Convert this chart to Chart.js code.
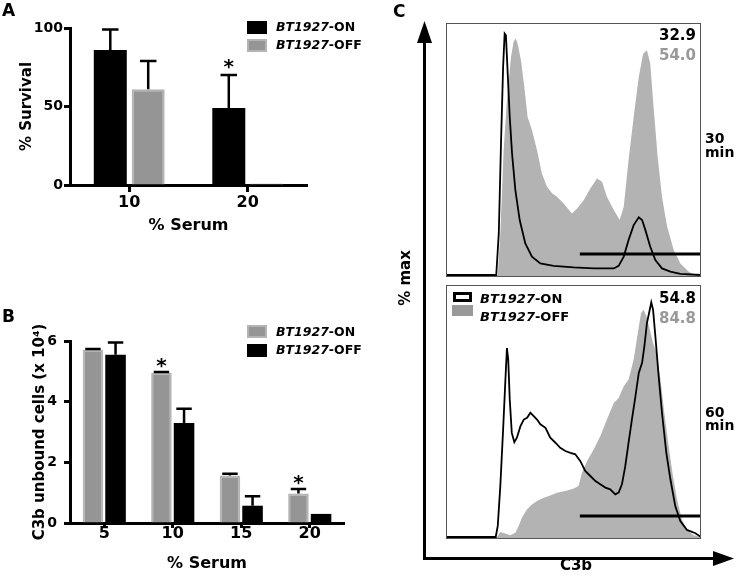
<!DOCTYPE html>
<html><head><meta charset="utf-8">
<script src="https://cdn.jsdelivr.net/npm/chart.js@4/dist/chart.umd.min.js"></script>
<style>
html,body{margin:0;padding:0;background:#fff;}
body{width:742px;height:584px;position:relative;overflow:hidden;font-family:'DejaVu Sans',sans-serif;font-weight:bold;color:#000;}
canvas{position:absolute;}
.t{position:absolute;line-height:1;white-space:nowrap;}
.sq{position:absolute;box-sizing:border-box;}
i{font-style:italic;}
</style></head><body>
<canvas id="cA" width="330" height="245" style="left:0;top:0"></canvas>
<canvas id="cB" width="380" height="294" style="left:0;top:290px"></canvas>
<canvas id="cC1" width="255" height="254" style="left:446px;top:23px"></canvas>
<canvas id="cC2" width="255" height="254" style="left:446px;top:285px"></canvas>

<svg width="742" height="584" style="position:absolute;left:0;top:0;pointer-events:none">
  <line x1="424.5" y1="40" x2="424.5" y2="558.5" stroke="#000" stroke-width="3"/>
  <polygon points="424.5,21 417,43 432,43" fill="#000"/>
  <line x1="423" y1="558.5" x2="716" y2="558.5" stroke="#000" stroke-width="3"/>
  <polygon points="734,558.5 713,551 713,566" fill="#000"/>
</svg>

<div class="t" style="left:2px;top:2px;font-size:17px">A</div>
<div class="t" style="left:2px;top:308px;font-size:17px">B</div>
<div class="t" style="left:393px;top:3px;font-size:17px">C</div>

<!-- legend A -->
<div class="sq" style="left:247px;top:21px;width:20px;height:13px;background:#000"></div>
<div class="sq" style="left:247px;top:39px;width:20px;height:13px;background:#959595;border:2px solid #b4b4b4"></div>
<div class="t" style="left:276px;top:21px;font-size:12.5px"><i>BT1927</i>-ON</div>
<div class="t" style="left:276px;top:39px;font-size:12.5px"><i>BT1927</i>-OFF</div>

<!-- legend B -->
<div class="sq" style="left:247px;top:325px;width:20px;height:13px;background:#959595;border:2px solid #b4b4b4"></div>
<div class="sq" style="left:247px;top:344px;width:20px;height:13px;background:#000"></div>
<div class="t" style="left:276px;top:326px;font-size:12.5px"><i>BT1927</i>-ON</div>
<div class="t" style="left:276px;top:343.5px;font-size:12.5px"><i>BT1927</i>-OFF</div>

<!-- panel C texts -->
<div class="t" style="right:46px;top:28px;font-size:15px">32.9</div>
<div class="t" style="right:46px;top:48px;font-size:15px;color:#999">54.0</div>
<div class="t" style="right:46px;top:291px;font-size:15px">54.8</div>
<div class="t" style="right:46px;top:311px;font-size:15px;color:#999">84.8</div>
<div class="t" style="left:705px;top:131px;font-size:14px;line-height:14px">30<br>min</div>
<div class="t" style="left:705px;top:406px;font-size:14px;line-height:13px">60<br>min</div>
<div class="t" style="left:405px;top:278px;font-size:15px;transform:translate(-50%,-50%) rotate(-90deg)">% max</div>
<div class="t" style="left:576px;top:558px;font-size:15px;transform:translateX(-50%)">C3b</div>
<div class="sq" style="left:453px;top:292px;width:19px;height:10px;border:3px solid #000;background:#fff"></div>
<div class="sq" style="left:452px;top:305px;width:21px;height:11px;background:#999"></div>
<div class="t" style="left:480px;top:292px;font-size:13px"><i>BT1927</i>-ON</div>
<div class="t" style="left:480px;top:310px;font-size:13px"><i>BT1927</i>-OFF</div>

<script>
// ---------- Panel A data ----------
const aCategories = ['10', '20'];
const aOn = [86, 49];
const aOnErr = [13, 21];
const aOnStar = [false, true];
const aOff = [61, 1];
const aOffErr = [18, 0];
const aOffStar = [false, false];
const aTicks = [0, 50, 100];

// ---------- Panel B data ----------
const bCategories = ['5', '10', '15', '20'];
const bOn = [5.7, 4.95, 1.57, 0.97];
const bOnErr = [0.04, 0.03, 0.05, 0.15];
const bOnStar = [false, true, false, true];
const bOff = [5.55, 3.3, 0.57, 0.3];
const bOffErr = [0.4, 0.47, 0.31, 0];
const bOffStar = [false, false, false, false];
const bTicks = [0, 2, 4, 6];

// ---------- Panel C data (C3b channel %, % max) ----------
const c30OnX = [0,19.3,19.7,20.7,21.6,22.4,23.0,23.5,24.2,25.0,25.9,27.2,28.9,31.1,33.7,37.0,42.2,50.1,57.9,65.8,67.7,69.7,71.6,73.6,75.6,76.9,78.2,80.1,82.1,84.7,88.0,91.9,100];
const c30OnY = [0,0,0,16.5,53.5,82.6,95.8,95.1,79.9,62.7,48.2,33.7,21.8,12.5,7.3,4.6,3.6,3.0,2.6,2.6,3.6,7.3,13.9,19.8,22.9,21.8,17.8,11.2,5.9,2.6,1.3,0.4,0];
const c30OffX = [0,20.3,21.3,22.6,23.9,25.5,26.5,27.3,28.1,29.4,30.7,32.0,33.7,35.7,37.6,39.6,41.6,43.5,46.1,49.4,51.4,54.0,56.6,59.2,61.2,63.1,65.8,68.1,69.7,71.6,73.6,75.6,77.3,78.8,80.1,81.4,83.0,84.7,86.7,89.3,91.9,95.2,97.8,100];
const c30OffY = [0,0,16.5,49.5,69.4,86.5,92.5,93.8,91.8,85.2,74.6,62.7,57.5,49.5,40.3,35.0,32.4,31.0,28.4,24.4,26.4,29.7,34.3,38.3,37.0,31.0,25.8,21.8,27.1,45.6,62.7,78.6,87.8,89.2,83.9,66.7,46.9,31.0,19.2,9.9,4.6,1.3,0,0];
const c60OnX = [0,19.5,20.3,21.3,22.4,23.3,23.9,24.4,25.0,25.8,26.8,27.8,29.2,30.5,31.8,33.1,34.4,35.7,37.0,39.0,40.9,42.9,44.8,46.8,48.8,50.7,52.7,54.6,56.6,58.6,60.5,62.5,64.4,66.4,67.7,69.0,70.3,71.6,72.9,74.3,75.6,76.9,77.8,78.8,79.9,80.5,81.2,82.1,83.4,84.7,86.4,88.0,89.9,91.9,94.5,97.8,100];
const c60OnY = [0,0,4.4,20.2,42.7,62.5,75.0,70.4,54.6,41.3,37.6,39.4,44.0,46.6,47.3,49.3,48.0,46.6,44.7,43.3,39.4,37.4,35.4,34.1,33.4,32.8,30.1,26.2,24.2,22.2,20.9,19.6,18.9,16.9,17.6,20.9,28.1,37.4,46.6,55.9,65.1,69.1,75.7,84.9,90.2,93.1,90.2,79.7,63.8,49.3,33.4,22.9,12.3,6.3,2.8,1.5,0];
const c60OffX = [0,20.0,21.3,22.9,25.2,27.2,28.5,29.8,31.8,33.7,35.7,38.3,40.9,43.5,46.8,50.1,52.0,53.3,55.3,57.9,60.5,63.1,65.8,67.7,69.7,71.6,73.6,75.2,76.5,77.5,78.6,79.9,81.2,82.5,84.1,85.6,87.3,89.0,90.6,92.5,94.5,97.1,100];
const c60OffY = [0,0,2.0,1.5,0.7,1.7,4.4,7.7,11.0,12.9,14.3,15.6,16.5,17.6,18.2,19.2,20.2,25.5,30.1,34.7,40.0,46.6,53.2,55.2,59.8,62.5,70.4,81.0,88.9,90.2,87.6,82.3,77.0,73.1,62.5,49.3,36.1,24.2,14.9,7.0,2.8,0.7,0];
const gateX = [52.5, 100];
const gateY = [8.3, 8.3];

Chart.defaults.font.family = "'DejaVu Sans', sans-serif";
Chart.defaults.font.weight = 'bold';
Chart.defaults.color = '#000';
Chart.defaults.animation = false;
Chart.defaults.plugins.legend.display = false;
Chart.defaults.plugins.tooltip.enabled = false;

const GRAY = '#959595', GRAY_EDGE = '#b4b4b4';

const errorBars = {
  id: 'errorBars',
  afterDatasetsDraw(chart, args, opts) {
    const ctx = chart.ctx, ys = chart.scales.y;
    chart.data.datasets.forEach((ds, di) => {
      if (!ds.errors) return;
      const meta = chart.getDatasetMeta(di);
      meta.data.forEach((bar, i) => {
        const err = ds.errors[i] || 0;
        const top = ys.getPixelForValue(ds.data[i] + err);
        ctx.save();
        ctx.strokeStyle = '#000';
        ctx.lineWidth = opts.lineWidth || 2;
        if (err > 0) {
          const half = bar.width * opts.cap / 2;
          ctx.beginPath();
          ctx.moveTo(bar.x, bar.y); ctx.lineTo(bar.x, top);
          ctx.moveTo(bar.x - half, top); ctx.lineTo(bar.x + half, top);
          ctx.stroke();
        }
        if (ds.stars && ds.stars[i]) {
          ctx.fillStyle = '#000';
          ctx.font = "bold 20px 'DejaVu Sans'";
          ctx.textAlign = 'center';
          ctx.textBaseline = 'alphabetic';
          ctx.fillText('*', bar.x, top - opts.starGap);
        }
        ctx.restore();
      });
    });
  }
};

function barChart(id, cats, sets, ticks, cfg) {
  return new Chart(document.getElementById(id), {
    type: 'bar',
    data: { labels: cats, datasets: sets },
    options: {
      responsive: false,
      layout: { padding: cfg.pad },
      datasets: { bar: { categoryPercentage: cfg.catPct, barPercentage: cfg.barPct } },
      plugins: { errorBars: cfg.err },
      scales: {
        x: {
          offset: true,
          grid: { display: true, offset: false, drawOnChartArea: false, drawTicks: true, tickLength: cfg.xTickLen, tickWidth: 3, tickColor: '#000' },
          border: { display: true, color: '#000', width: 3 },
          ticks: { font: { size: 16, lineHeight: 1 }, padding: cfg.xTickPad },
          title: { display: true, text: '% Serum', font: { size: 16 }, padding: { top: 0, bottom: cfg.xTitlePad } },
          afterFit: s => { s.height = cfg.xH; }
        },
        y: {
          min: ticks[0], max: ticks[ticks.length - 1],
          afterBuildTicks: s => { s.ticks = ticks.map(v => ({ value: v })); },
          grid: { display: true, drawOnChartArea: false, drawTicks: true, tickLength: 6, tickWidth: 3, tickColor: '#000' },
          border: { display: true, color: '#000', width: 3 },
          ticks: { font: { size: 14 }, padding: cfg.yTickPad },
          title: { display: true, text: cfg.yTitle, font: { size: 15 }, padding: { top: cfg.yTitlePad, bottom: 0 } },
          afterFit: s => { s.width = 70; }
        }
      }
    },
    plugins: [errorBars]
  });
}

barChart('cA', aCategories, [
  { data: aOn, errors: aOnErr, stars: aOnStar, backgroundColor: '#000', borderWidth: 0 },
  { data: aOff, errors: aOffErr, stars: aOffStar, backgroundColor: GRAY, borderColor: GRAY_EDGE, borderWidth: 2 }
], aTicks, { pad: { top: 28, right: 23, left: 0, bottom: 0 }, catPct: 0.64, barPct: 0.87,
  err: { cap: 0.5, starGap: 2, lineWidth: 2.5 }, xTickLen: 7, xTickPad: 3, xTitlePad: 10, xH: 60,
  yTickPad: 1, yTitle: '% Survival', yTitlePad: 18 });

barChart('cB', bCategories, [
  { data: bOn, errors: bOnErr, stars: bOnStar, backgroundColor: GRAY, borderColor: GRAY_EDGE, borderWidth: 2 },
  { data: bOff, errors: bOffErr, stars: bOffStar, backgroundColor: '#000', borderWidth: 0 }
], bTicks, { pad: { top: 51, right: 36, left: 0, bottom: 0 }, catPct: 0.66, barPct: 0.91,
  err: { cap: 0.75, starGap: 0, lineWidth: 2.5 }, xTickLen: 5, xTickPad: -2, xTitlePad: 11, xH: 61,
  yTickPad: 7, yTitle: 'C3b unbound cells (x 10\u2074)', yTitlePad: 31 });

const boxBorder = {
  id: 'boxBorder',
  afterDraw(chart) {
    const { ctx, chartArea: a } = chart;
    ctx.save();
    ctx.strokeStyle = '#555';
    ctx.lineWidth = 1;
    ctx.strokeRect(a.left + 0.5, a.top + 0.5, a.right - a.left - 1, a.bottom - a.top - 1);
    ctx.restore();
  }
};

const pts = (xs, ys) => xs.map((x, i) => ({ x, y: ys[i] }));

function histChart(id, onX, onY, offX, offY) {
  return new Chart(document.getElementById(id), {
    type: 'line',
    data: {
      datasets: [
        { data: pts(onX, onY), borderColor: '#000', borderWidth: 1.8, fill: false, pointRadius: 0, tension: 0 },
        { data: pts(gateX, gateY), borderColor: '#000', borderWidth: 3, fill: false, pointRadius: 0, tension: 0 },
        { data: pts(offX, offY), borderColor: 'rgba(0,0,0,0)', borderWidth: 0, backgroundColor: '#b3b3b3', fill: 'start', pointRadius: 0, tension: 0 }
      ]
    },
    options: {
      responsive: false,
      layout: { padding: 0 },
      scales: {
        x: { type: 'linear', min: 0, max: 100, display: false },
        y: { type: 'linear', min: -0.8, max: 100, display: false }
      }
    },
    plugins: [boxBorder]
  });
}

histChart('cC1', c30OnX, c30OnY, c30OffX, c30OffY);
histChart('cC2', c60OnX, c60OnY, c60OffX, c60OffY);
</script>
</body></html>
